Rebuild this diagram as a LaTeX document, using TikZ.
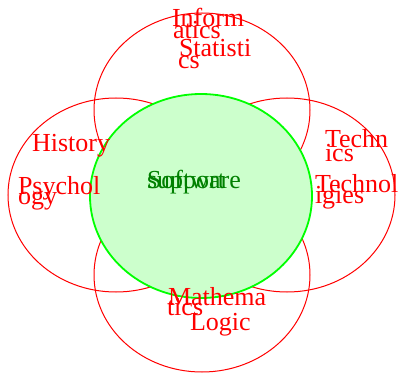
\documentclass[tikz,border=0pt]{standalone}
\usepackage{fontspec}
\setmainfont{Liberation Serif}
\begin{document}
\begin{tikzpicture}[x=1pt,y=-1pt,
  redring/.style={draw=red,line width=1pt},
  greenring/.style={draw=green,fill={rgb,255:red,204;green,255;blue,204},line width=1.8pt},
  lbl/.style={anchor=base west,inner sep=0pt,outer sep=0pt,text=red,font=\fontsize{26}{26}\selectfont},
  glbl/.style={lbl,text={rgb,255:red,0;green,128;blue,0}}]
\useasboundingbox (0,0) rectangle (401,374);
\draw[redring] (202,110) ellipse [x radius=108, y radius=97];
\draw[redring] (116,195) ellipse [x radius=108, y radius=97];
\draw[redring] (287,195) ellipse [x radius=108, y radius=97];
\draw[redring] (202,275) ellipse [x radius=108, y radius=97];
\draw[greenring] (201,196) ellipse [x radius=111, y radius=102];
% top
\node[lbl] (inf1) at (172,27) {Inform};
\node[lbl] (inf2) at (173,39) {atics};
\node[lbl] (sta1) at (179,57) {Statisti};
\node[lbl] (sta2) at (178,69) {cs};
% left
\node[lbl] (his) at (32,152) {History};
\node[lbl] (psy1) at (18,194) {Psychol};
\node[lbl] (psy2) at (18,204) {ogy};
% right
\node[lbl] (tec1) at (325,148) {Techn};
\node[lbl] (tec2) at (325,161) {ics};
\node[lbl] (tnl1) at (315,192) {Technol};
\node[lbl] (tnl2) at (315,203) {igies};
% bottom
\node[lbl] (mat1) at (168,305) {Mathema};
\node[lbl] (mat2) at (167,315) {tics};
\node[lbl] (log) at (190,330) {Logic};
% center
\node[glbl] (sw) at (147,188) {Software};
\node[glbl] (sup) at (147,188) {support};
\end{tikzpicture}
\end{document}
